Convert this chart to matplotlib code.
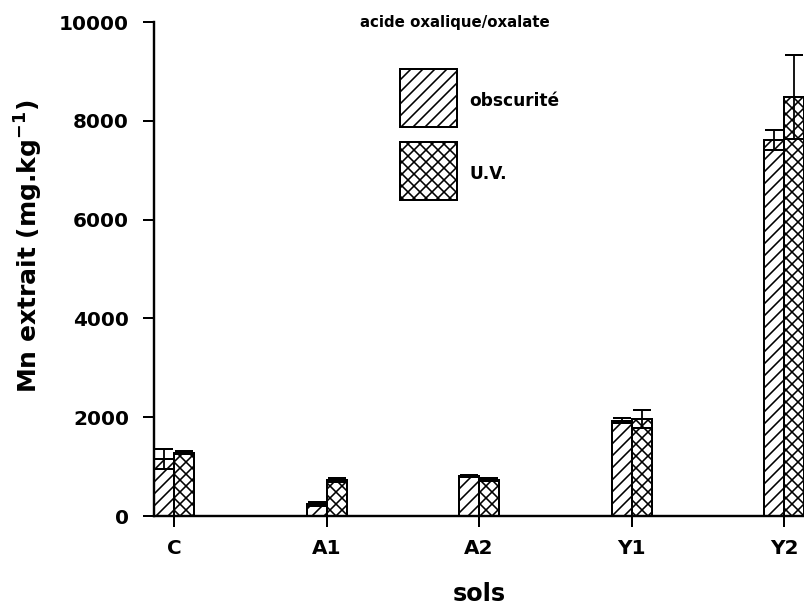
import matplotlib
matplotlib.use("Agg")
import matplotlib.pyplot as plt
import numpy as np
from matplotlib.patches import Rectangle

plt.rcParams['font.family'] = ['DejaVu Sans']
plt.rcParams['font.weight'] = 'bold'
plt.rcParams['hatch.linewidth'] = 1.6

categories = ['C', 'A1', 'A2', 'Y1', 'Y2']
obscurite = [1150, 250, 810, 1930, 7610]
obscurite_err = [200, 40, 20, 50, 200]
uv = [1280, 720, 730, 1960, 8480]
uv_err = [30, 40, 30, 180, 850]
yticks = [0, 2000, 4000, 6000, 8000, 10000]

DPI = 72
fig = plt.figure(figsize=(804 / DPI, 616 / DPI), dpi=DPI)
ax = fig.add_axes([154 / 804, 100 / 616, 650 / 804, 494 / 616])

x = np.arange(len(categories))
w = 0.131
ekw = dict(elinewidth=1.8, capthick=2, ecolor='black')
ax.bar(x - w / 2, obscurite, w, color='white', edgecolor='black', hatch='//', linewidth=2,
       yerr=obscurite_err, capsize=9, error_kw=ekw)
ax.bar(x + w / 2, uv, w, color='white', edgecolor='black', hatch='xx', linewidth=2,
       yerr=uv_err, capsize=9, error_kw=ekw)

ax.set_xlim(-w, 4.13)
ax.set_ylim(0, 10000)
ax.set_xticks(x)
ax.set_xticklabels(categories)
ax.set_yticks(yticks)
ax.set_yticklabels([str(v) for v in yticks])
for s in ['top', 'right']:
    ax.spines[s].set_visible(False)
for s in ['left', 'bottom']:
    ax.spines[s].set_linewidth(2.4)
ax.tick_params(axis='both', direction='out', length=11, width=2, labelsize=20)
ax.tick_params(axis='x', pad=12)
ax.tick_params(axis='y', pad=14)

ax.set_ylabel('Mn extrait (mg.kg$^{\\mathbf{-1}}$)', fontsize=25, fontweight='bold')
ax.yaxis.set_label_coords(-0.168, 0.545)
ax.set_xlabel('sols', fontsize=24, fontweight='bold', labelpad=24)

fig.text(455 / 804, 1 - 22 / 616, 'acide oxalique/oxalate', ha='center', va='center',
         fontsize=15, fontweight='bold')

# legend drawn as boxes with labels
legend_items = [('//', 'obscurité', 0.787), ('xx', 'U.V.', 0.640)]
for hatch, label, yb in legend_items:
    ax.add_patch(Rectangle((0.378, yb), 0.0877, 0.117, transform=ax.transAxes,
                           facecolor='white', edgecolor='black', hatch=hatch, linewidth=2,
                           clip_on=False))
    ax.text(0.485, yb + 0.0585 - 0.006, label, transform=ax.transAxes, ha='left', va='center',
            fontsize=17, fontweight='bold')

fig.savefig('out.png', dpi=DPI)
